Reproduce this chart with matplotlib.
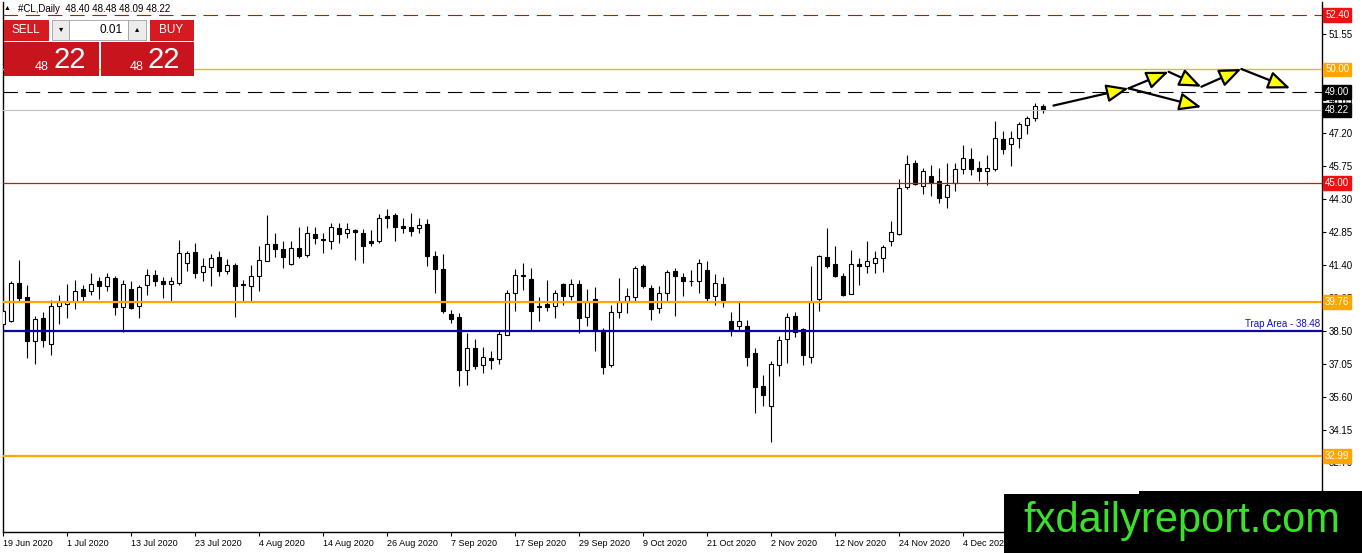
import matplotlib
matplotlib.use("Agg")
import matplotlib.pyplot as plt
from matplotlib.patches import Rectangle, FancyArrowPatch
from matplotlib.transforms import blended_transform_factory

plt.rcParams["font.family"] = ["Liberation Sans", "DejaVu Sans"]

# Daily candles #CL, 19 Jun 2020 .. 18 Dec 2020
opens = [38.80, 38.92, 40.59, 39.98, 38.03, 39.05, 37.91, 39.61, 39.68, 39.79,
         40.34, 40.27, 40.70, 40.45, 40.80, 39.54, 40.34, 39.57, 40.50, 40.94,
         40.70, 40.55, 40.62, 41.47, 41.97, 41.08, 41.30, 41.74, 41.15, 41.40,
         40.55, 40.45, 40.91, 41.59, 42.32, 42.09, 41.44, 42.13, 41.84, 42.76,
         42.53, 42.43, 43.03, 42.78, 42.94, 42.79, 42.46, 42.43, 43.53, 43.60,
         43.12, 43.06, 43.00, 43.20, 41.77, 41.22, 39.24, 39.10, 36.75, 37.73,
         36.97, 37.31, 37.26, 38.32, 40.15, 40.97, 40.77, 39.57, 39.68, 39.57,
         40.56, 40.05, 40.56, 39.12, 39.89, 38.54, 36.97, 39.32, 39.79, 39.98,
         41.33, 40.37, 39.49, 40.15, 41.11, 40.86, 40.70, 40.67, 41.18, 40.01,
         40.55, 38.93, 38.69, 38.72, 37.54, 36.07, 35.19, 36.98, 38.13, 39.15,
         38.57, 37.33, 39.89, 41.74, 41.44, 40.91, 40.12, 41.44, 41.33, 41.50,
         41.69, 42.43, 42.76, 44.82, 45.90, 44.89, 45.32, 45.11, 44.38, 44.99,
         45.61, 46.06, 45.65, 45.55, 45.61, 46.94, 46.71, 46.97, 47.56, 47.85,
         48.40]
highs = [40.48, 40.70, 41.62, 40.50, 39.17, 39.32, 39.86, 40.08, 40.56, 40.74,
         40.52, 41.03, 40.88, 41.03, 40.91, 40.74, 40.70, 40.52, 41.21, 41.18,
         40.88, 40.86, 42.50, 42.02, 42.38, 41.69, 41.87, 41.99, 41.65, 41.50,
         40.74, 41.38, 42.21, 43.60, 42.79, 42.43, 42.43, 43.06, 43.09, 43.06,
         42.79, 43.26, 43.26, 43.23, 42.97, 42.97, 42.94, 43.64, 43.85, 43.67,
         43.45, 43.67, 43.45, 43.42, 41.99, 41.88, 39.42, 39.30, 38.39, 38.13,
         37.78, 37.59, 38.54, 40.30, 41.21, 41.47, 41.25, 39.98, 40.74, 40.30,
         40.62, 40.77, 40.74, 40.33, 40.42, 38.61, 39.64, 40.81, 40.37, 41.33,
         41.43, 40.52, 40.45, 41.18, 41.25, 41.03, 41.18, 41.66, 41.58, 41.00,
         40.86, 39.33, 39.82, 38.98, 37.73, 36.56, 37.15, 38.27, 39.27, 39.32,
         38.61, 41.33, 41.84, 43.01, 42.21, 41.03, 42.06, 41.69, 42.47, 41.99,
         42.28, 43.35, 45.17, 46.24, 46.02, 45.65, 45.80, 45.65, 45.90, 45.90,
         46.68, 46.53, 45.95, 46.24, 47.74, 47.30, 47.27, 47.68, 47.96, 48.54,
         48.48]
lows = [38.75, 38.89, 39.79, 37.28, 37.03, 37.78, 37.45, 38.80, 39.05, 39.45,
        39.79, 40.08, 39.89, 40.27, 39.20, 38.45, 39.46, 39.04, 40.08, 40.48,
        39.96, 39.79, 40.52, 41.15, 40.84, 40.67, 40.49, 40.89, 41.00, 39.10,
        39.79, 39.79, 40.27, 41.55, 41.74, 41.25, 41.40, 41.69, 41.74, 42.31,
        41.91, 42.09, 42.35, 42.57, 41.62, 41.50, 42.24, 42.35, 43.01, 42.43,
        42.79, 42.65, 42.82, 41.33, 40.18, 39.30, 38.86, 36.07, 36.12, 36.81,
        36.63, 36.81, 37.03, 38.29, 39.39, 40.30, 38.51, 38.91, 39.35, 39.08,
        39.64, 39.86, 38.39, 38.69, 37.59, 36.60, 36.90, 39.05, 39.27, 39.79,
        40.37, 38.98, 39.30, 39.79, 39.17, 40.04, 40.48, 40.18, 39.79, 39.64,
        39.54, 38.25, 38.50, 36.93, 34.87, 35.17, 33.58, 36.51, 37.07, 38.24,
        37.00, 37.10, 39.39, 41.28, 40.86, 40.03, 40.12, 40.52, 41.03, 41.03,
        41.08, 42.24, 42.72, 44.73, 44.92, 44.52, 44.43, 44.11, 43.89, 44.63,
        45.40, 45.36, 45.11, 44.92, 45.51, 46.28, 45.73, 46.53, 47.15, 47.75,
        48.09]
closes = [39.35, 40.59, 39.92, 38.03, 39.01, 38.11, 39.59, 39.79, 39.82, 40.27,
          40.03, 40.55, 40.45, 40.86, 39.54, 40.55, 39.52, 40.42, 40.94, 40.67,
          40.55, 40.68, 41.91, 41.91, 41.06, 41.36, 41.69, 41.15, 41.40, 40.45,
          40.50, 40.91, 41.62, 42.32, 42.09, 41.74, 42.13, 41.80, 42.79, 42.56,
          42.49, 43.06, 42.75, 42.97, 42.84, 42.25, 42.38, 43.45, 43.45, 43.06,
          43.03, 42.91, 43.16, 41.77, 41.22, 39.38, 39.02, 36.78, 37.73, 36.93,
          37.34, 37.19, 38.35, 40.15, 40.96, 40.89, 39.38, 39.54, 39.54, 40.15,
          40.01, 40.56, 39.05, 39.83, 38.54, 36.90, 39.33, 39.79, 40.01, 41.25,
          40.48, 39.45, 40.15, 41.08, 40.89, 40.71, 40.67, 41.47, 39.96, 40.59,
          39.76, 38.57, 38.93, 37.34, 36.02, 35.65, 37.04, 38.10, 39.10, 38.46,
          37.44, 39.79, 41.80, 41.35, 40.89, 40.08, 41.43, 41.33, 41.57, 41.69,
          42.18, 42.84, 44.77, 45.84, 44.96, 45.54, 45.02, 44.33, 44.92, 45.62,
          46.09, 45.61, 45.55, 45.65, 46.97, 46.49, 47.00, 47.59, 47.85, 48.40,
          48.22]

date_labels = ["19 Jun 2020", "1 Jul 2020", "13 Jul 2020", "23 Jul 2020",
               "4 Aug 2020", "14 Aug 2020", "26 Aug 2020", "7 Sep 2020",
               "17 Sep 2020", "29 Sep 2020", "9 Oct 2020", "21 Oct 2020",
               "2 Nov 2020", "12 Nov 2020", "24 Nov 2020", "4 Dec 2020"]
label_step = 8

# 50.10 sits under the 50.00 box, so it is left without text
price_ticks = [32.70, 34.15, 35.60, 37.05, 38.50, 39.95, 41.40, 42.85,
               44.30, 45.75, 47.20, 48.65, 50.10, 51.55]
hidden_ticks = [50.10]

# horizontal levels: (price, colour, width, dashed, label box colour)
levels = [
    (52.40, "#E00000", 0.8, True, "#EE1111"),
    (50.00, "#F0B41C", 1.0, False, "#FFA500"),
    (49.00, "#000000", 0.8, True, "#000000"),
    (48.22, "#C0C0C0", 0.8, False, "#000000"),
    (45.00, "#D01414", 0.9, False, "#EE1111"),
    (39.76, "#FFA500", 1.6, False, "#FFA500"),
    (38.48, "#0A0A9A", 1.6, False, None),
    (32.99, "#FFA500", 1.6, False, "#FFA500"),
]

# projected path arrows (bar index, price)
arrow_paths = [
    ((131.3, 48.41), (140.7, 49.17)),
    ((140.7, 49.17), (145.7, 49.90)),
    ((145.7, 49.90), (149.8, 49.24)),
    ((149.8, 49.24), (154.8, 50.02)),
    ((154.8, 50.02), (160.9, 49.17)),
    ((140.7, 49.17), (149.8, 48.34)),
]

W, H = 1362, 553
fig = plt.figure(figsize=(W / 100, H / 100), dpi=100)
fig.patch.set_facecolor("white")
ax = fig.add_axes([3 / W, 1 - 532 / H, (1322 - 3) / W, (532 - 2) / H])
ax.set_xlim(0, (1322 - 3) / 8)
ax.set_ylim(29.64, 52.97)

# candles
xs = list(range(len(opens)))
ax.vlines(xs, lows, highs, color="black", lw=0.8, zorder=2)
for i in xs:
    o, c = opens[i], closes[i]
    bottom = min(o, c)
    h = max(abs(c - o), 0.02)
    fc = "white" if c >= o else "black"
    ax.add_patch(Rectangle((i - 0.3, bottom), 0.6, h, facecolor=fc,
                           edgecolor="black", lw=0.8, zorder=3))

# horizontal levels
for price, col, lw, dashed, box in levels:
    line = ax.axhline(price, color=col, lw=lw, zorder=4)
    if dashed:
        line.set_dashes((13, 7))
    if box:
        ax.annotate(f"{price:.2f}", xy=(1, price),
                    xycoords=("axes fraction", "data"),
                    xytext=(2.2, 0), textcoords="offset points",
                    ha="left", va="center", fontsize=7, color="white",
                    annotation_clip=False, zorder=10,
                    bbox=dict(boxstyle="square,pad=0.18", fc=box, ec=box))

ax.text(0.9985, 38.48 + 0.08, "Trap Area - 38.48", color="#1010C0",
        fontsize=7, ha="right", va="bottom",
        transform=blended_transform_factory(ax.transAxes, ax.transData),
        zorder=5)

# arrows
for start, end in arrow_paths:
    ax.add_patch(FancyArrowPatch(start, end,
                                 arrowstyle="-|>,head_length=1.35,head_width=0.55",
                                 mutation_scale=10, lw=1.6, edgecolor="black",
                                 facecolor="#FFFF00", shrinkA=0, shrinkB=0,
                                 zorder=6))

# axes styling
ax.spines["top"].set_visible(False)
for side in ("left", "right", "bottom"):
    ax.spines[side].set_linewidth(1.0)
ax.yaxis.tick_right()
ax.set_yticks(price_ticks)
ax.set_yticklabels(["" if p in hidden_ticks else f"{p:.2f}" for p in price_ticks])
ax.tick_params(axis="y", direction="out", length=3, width=0.8, pad=2,
               labelsize=7)
ax.set_xticks(list(range(0, label_step * len(date_labels), label_step)))
ax.set_xticklabels(date_labels)
ax.tick_params(axis="x", direction="out", length=3, width=0.8, pad=2,
               labelsize=6.5)
for lab in ax.get_xticklabels():
    lab.set_horizontalalignment("left")


def px_rect(x0, y0, x1, y1, **kw):
    fig.add_artist(Rectangle((x0 / W, 1 - y1 / H), (x1 - x0) / W, (y1 - y0) / H,
                             transform=fig.transFigure, **kw))


def px_text(x, y, s, **kw):
    fig.text(x / W, 1 - y / H, s, **kw)


# header
px_text(7, 9, "\u25b2", fontsize=5, ha="center", va="center")
px_text(18, 9, "#CL,Daily  48.40 48.48 48.09 48.22", fontsize=7,
        ha="left", va="center")

# one-click trading panel
red_top = "#D51A22"
red_big = "#C8141C"
px_rect(4, 20, 49, 41, facecolor=red_top, edgecolor="none", zorder=5)
px_rect(4, 42, 99, 76, facecolor=red_big, edgecolor="none", zorder=5)
px_rect(150, 20, 194, 41, facecolor=red_top, edgecolor="none", zorder=5)
px_rect(101, 42, 194, 76, facecolor=red_big, edgecolor="none", zorder=5)
px_rect(52, 20, 69, 40, facecolor="#ECECEC", edgecolor="#A0A0A0", lw=0.6, zorder=5)
px_rect(69, 20, 128, 40, facecolor="white", edgecolor="#A0A0A0", lw=0.6, zorder=5)
px_rect(128, 20, 146, 40, facecolor="#ECECEC", edgecolor="#A0A0A0", lw=0.6, zorder=5)
px_text(26, 30, "SELL", color="white", fontsize=8.5, ha="center", va="center", zorder=6)
px_text(171, 30, "BUY", color="white", fontsize=8.5, ha="center", va="center", zorder=6)
px_text(61, 30, "\u25be", fontsize=6, ha="center", va="center", zorder=6)
px_text(137, 30, "\u25b4", fontsize=6, ha="center", va="center", zorder=6)
px_text(123, 30, "0.01", fontsize=8.5, ha="right", va="center", zorder=6)
px_text(42, 67, "48", color="white", fontsize=9, ha="center", va="center", zorder=6)
px_text(70, 60, "22", color="white", fontsize=21, ha="center", va="center", zorder=6)
px_text(137, 67, "48", color="white", fontsize=9, ha="center", va="center", zorder=6)
px_text(164, 60, "22", color="white", fontsize=21, ha="center", va="center", zorder=6)

# watermark logo
px_rect(1004, 494, 1362, 553, facecolor="black", edgecolor="none", zorder=7)
px_rect(1139, 491, 1362, 496, facecolor="black", edgecolor="none", zorder=7)
px_text(1182, 521, "fxdailyreport.com", color="#3BE02A", fontsize=30,
        ha="center", va="center", zorder=8)

fig.savefig("out.png", dpi=100)
